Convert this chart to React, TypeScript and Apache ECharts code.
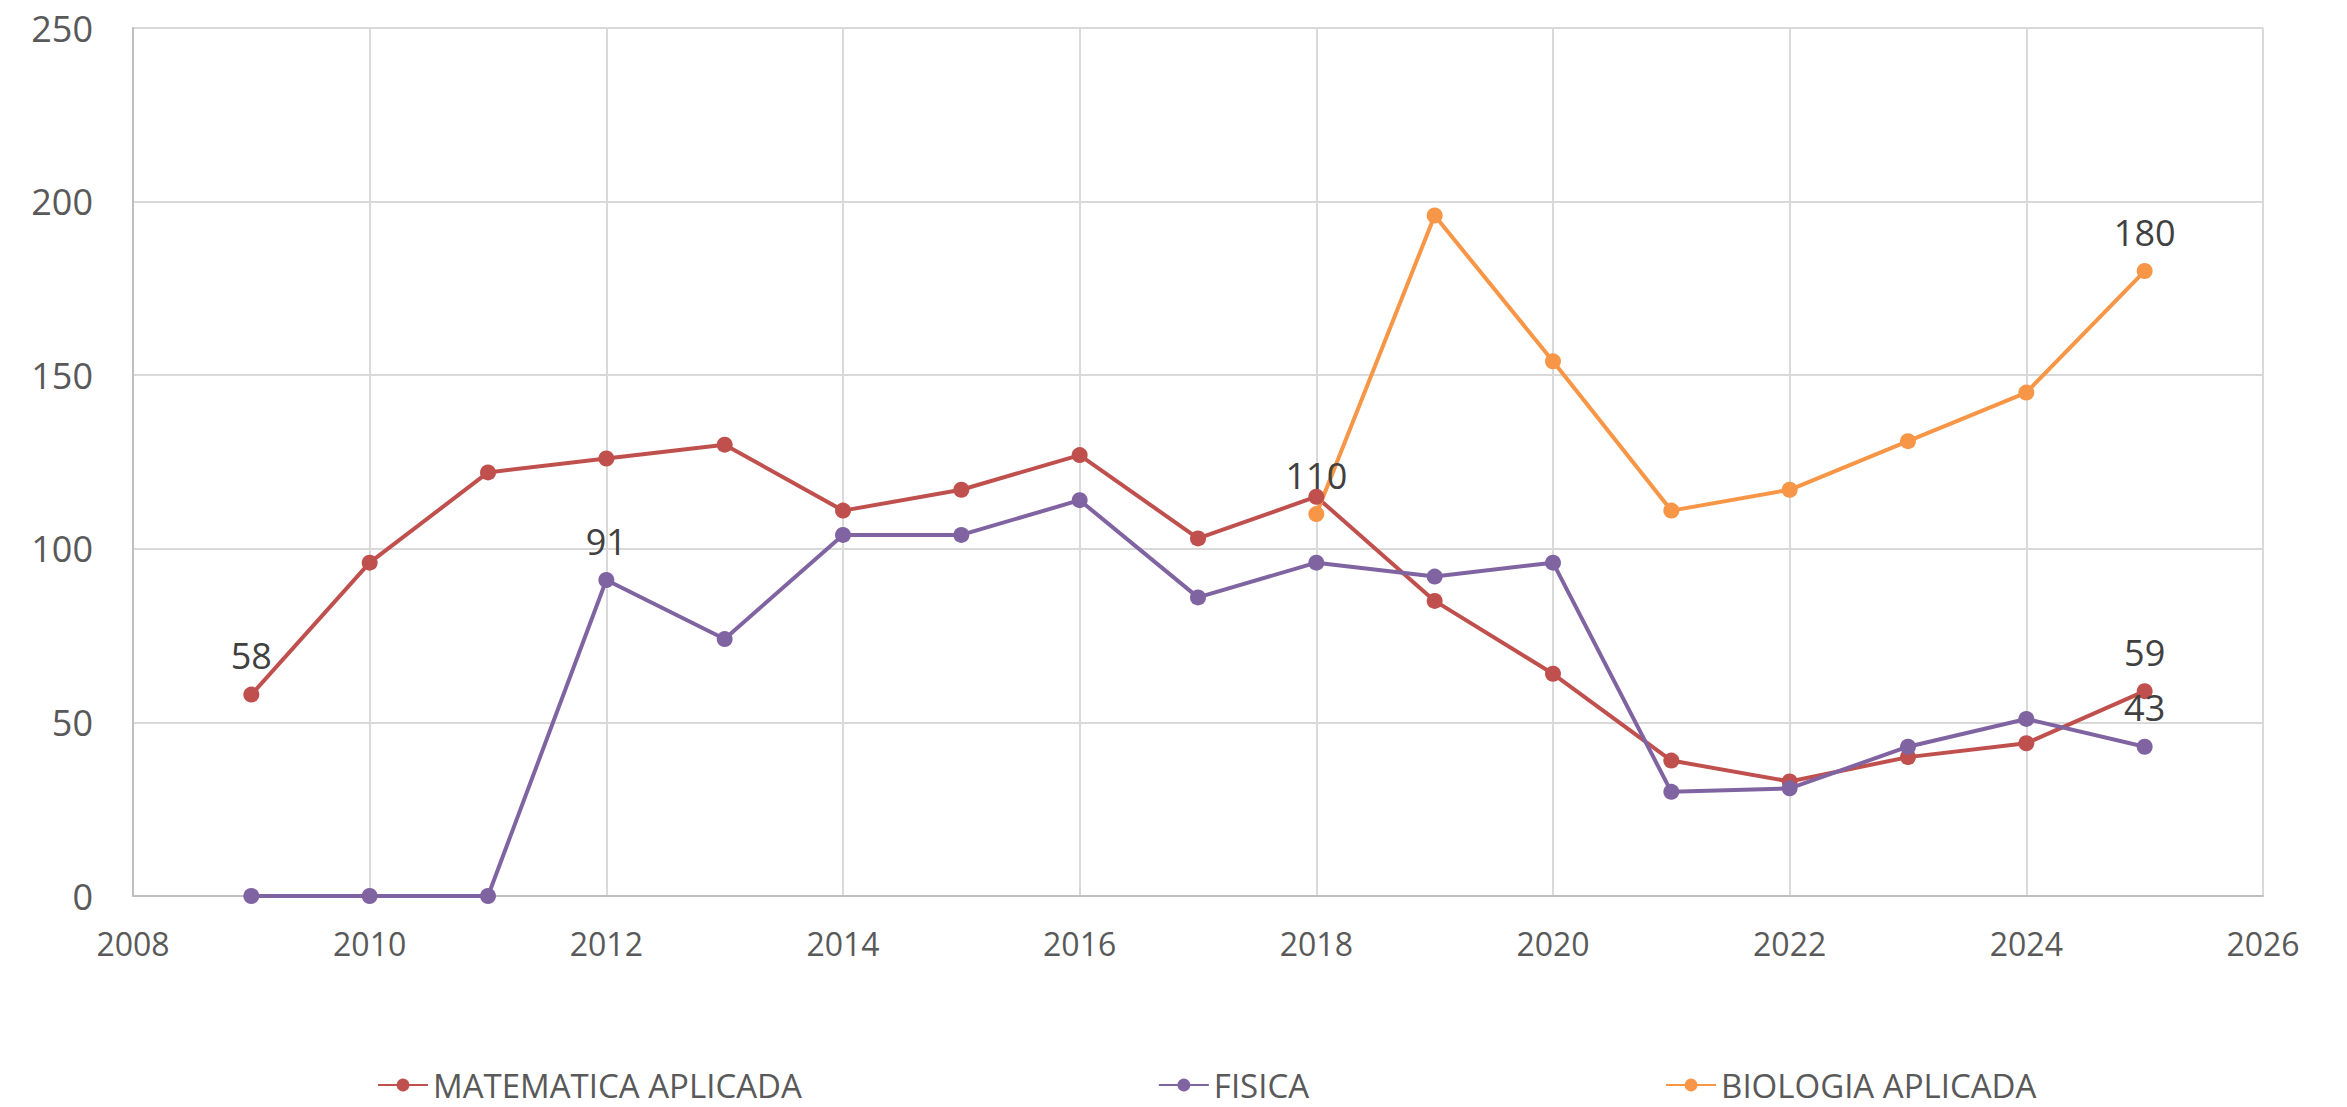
import React, { useEffect, useRef } from "react";
import * as echarts from "echarts";

const years = [2009, 2010, 2011, 2012, 2013, 2014, 2015, 2016, 2017, 2018, 2019, 2020, 2021, 2022, 2023, 2024, 2025];
const matematica = [58, 96, 122, 126, 130, 111, 117, 127, 103, 115, 85, 64, 39, 33, 40, 44, 59];
const fisica = [0, 0, 0, 91, 74, 104, 104, 114, 86, 96, 92, 96, 30, 31, 43, 51, 43];
const biologia = [null, null, null, null, null, null, null, null, null, 110, 196, 154, 111, 117, 131, 145, 180];

const labeledMat = [2009, 2025];
const labeledFis = [2012, 2025];
const labeledBio = [2018, 2025];

const seriesNames = ["MATEMATICA APLICADA", "FISICA", "BIOLOGIA APLICADA"];
const colors = ["#C0504D", "#8064A2", "#F79646"];

const FONT = "'Open Sans', 'Noto Sans', sans-serif";

function buildData(values: (number | null)[], labeled: number[]) {
  const out: any[] = [];
  years.forEach((y, i) => {
    const v = values[i];
    if (v === null || v === undefined) return;
    out.push({
      value: [y, v],
      label: { show: labeled.includes(y) },
    });
  });
  return out;
}

export default function App() {
  const ref = useRef<HTMLDivElement>(null);
  useEffect(() => {
    if (!ref.current) return;
    const chart = echarts.init(ref.current, null, { renderer: "svg" });
    const mk = (name: string, color: string, values: (number | null)[], labeled: number[]) => ({
      name,
      type: "line",
      data: buildData(values, labeled),
      symbol: "circle",
      symbolSize: 16,
      lineStyle: { color, width: 4 },
      itemStyle: { color },
      label: {
        show: false,
        position: "top",
        distance: 13,
        color: "#404040",
        fontSize: 36,
        fontFamily: FONT,
        lineHeight: 36,
      },
      emphasis: { disabled: true },
    });
    chart.setOption({
      animation: false,
      backgroundColor: "#ffffff",
      grid: { left: 133, right: 84, top: 28, bottom: 211, containLabel: false },
      xAxis: {
        type: "value",
        min: 2008,
        max: 2026,
        interval: 2,
        axisLine: { show: true, lineStyle: { color: "#BFBFBF", width: 2 } },
        axisTick: { show: false },
        splitLine: { show: true, lineStyle: { color: "#D9D9D9", width: 2 } },
        axisLabel: {
          color: "#595959",
          fontSize: 32,
          fontFamily: FONT,
          lineHeight: 32,
          margin: 31,
          formatter: (v: number) => String(v),
        },
      },
      yAxis: {
        type: "value",
        min: 0,
        max: 250,
        interval: 50,
        axisLine: { show: true, lineStyle: { color: "#BFBFBF", width: 2 } },
        axisTick: { show: false },
        splitLine: { show: true, lineStyle: { color: "#D9D9D9", width: 2 } },
        axisLabel: {
          color: "#595959",
          fontSize: 36,
          fontFamily: FONT,
          margin: 40,
        },
      },
      legend: {
        data: seriesNames,
        left: 377,
        top: 1068,
        padding: 0,
        itemGap: 356,
        itemWidth: 50,
        itemHeight: 16,
        textStyle: { color: "#595959", fontSize: 33, fontFamily: FONT, lineHeight: 34 },
      },
      series: [
        mk(seriesNames[0], colors[0], matematica, labeledMat),
        mk(seriesNames[1], colors[1], fisica, labeledFis),
        mk(seriesNames[2], colors[2], biologia, labeledBio),
      ],
    });
    return () => chart.dispose();
  }, []);
  return (
    <div
      ref={ref}
      style={{ position: "fixed", left: 0, top: 0, width: 2347, height: 1107, background: "#fff" }}
    />
  );
}
